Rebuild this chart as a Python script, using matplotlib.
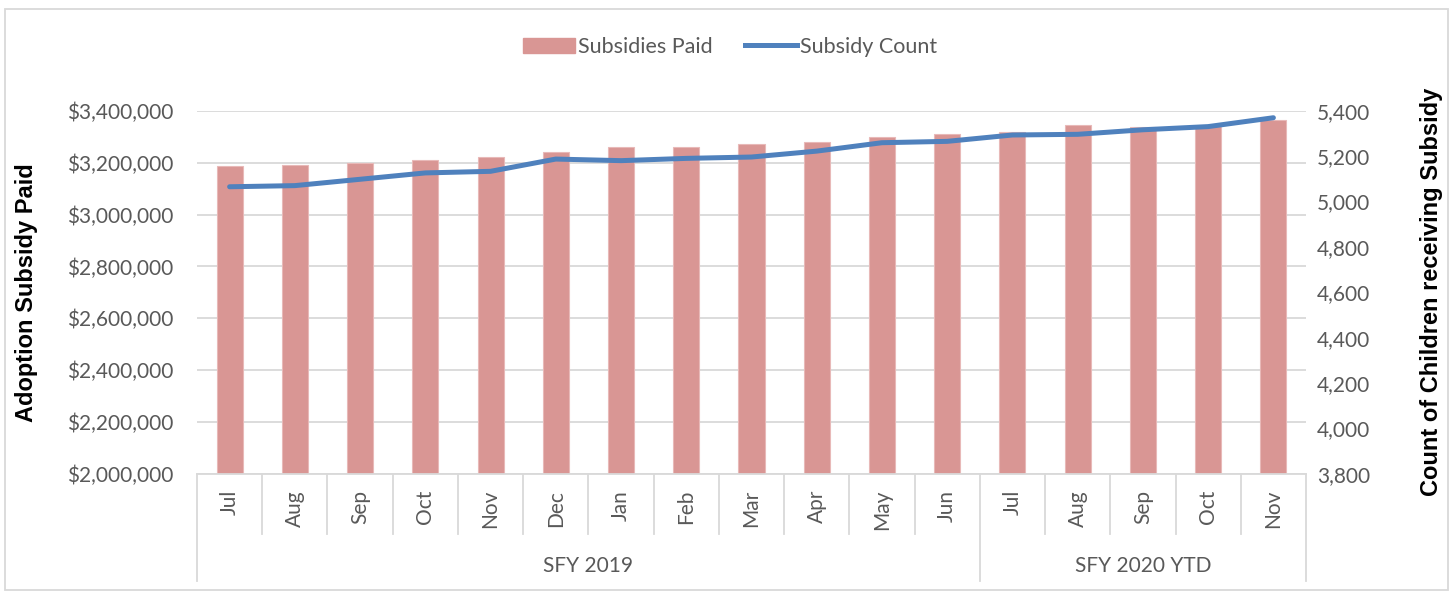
import matplotlib.pyplot as plt
import matplotlib.transforms as mtransforms
from matplotlib.patches import Rectangle, Patch
from matplotlib.lines import Line2D
from matplotlib.ticker import FuncFormatter

months = ['Jul', 'Aug', 'Sep', 'Oct', 'Nov', 'Dec', 'Jan', 'Feb', 'Mar', 'Apr', 'May', 'Jun',
          'Jul', 'Aug', 'Sep', 'Oct', 'Nov']
groups = ['SFY 2019', 'SFY 2020 YTD']
group_sizes = [12, 5]
subsidies_paid = [3186000, 3192000, 3199000, 3210000, 3221000, 3240000, 3259000, 3260000,
                  3272000, 3279000, 3298000, 3309000, 3317000, 3345000, 3339000, 3340000, 3366000]
subsidy_count = [5065, 5070, 5098, 5126, 5133, 5187, 5180, 5190, 5196, 5222, 5259, 5265,
                 5293, 5296, 5316, 5330, 5369]

plt.rcParams['font.family'] = ['Lato', 'DejaVu Sans']
tick_col = '#595959'
grid_col = '#d9d9d9'
fs = 15

fig = plt.figure(figsize=(14.54, 5.95), dpi=100)
ax = fig.add_axes([197 / 1454, 121 / 595, 1109 / 1454, 363.3 / 595])
ax2 = ax.twinx()

x = list(range(len(months)))
ax.bar(x, subsidies_paid, width=0.4, color='#d99694', edgecolor='#e8b9b8', linewidth=0.8, zorder=2)
ax2.plot(x, subsidy_count, color='#4f81bd', linewidth=3.6, solid_capstyle='round', zorder=3)

ax.set_xlim(-0.5, len(months) - 0.5)
ax.set_ylim(2000000, 3400000)
ax.set_yticks(range(2000000, 3400001, 200000))
ax.yaxis.set_major_formatter(FuncFormatter(lambda v, p: '${:,.0f}'.format(v)))
ax2.set_ylim(3800, 5400)
ax2.set_yticks(range(3800, 5401, 200))
ax2.yaxis.set_major_formatter(FuncFormatter(lambda v, p: '{:,.0f}'.format(v)))

ax.grid(axis='y', color=grid_col, linewidth=1.3, zorder=0)
ax.set_axisbelow(True)
for a in (ax, ax2):
    for s in a.spines.values():
        s.set_visible(False)
    a.tick_params(axis='y', length=0, labelsize=fs, labelcolor=tick_col)
ax.tick_params(axis='y', pad=17)
ax2.tick_params(axis='y', pad=8)
ax.set_xticks([])

ax.set_ylabel('Adoption Subsidy Paid', fontsize=17, fontweight='bold', family='Liberation Sans')
ax.yaxis.set_label_coords((38 - 197) / 1109, 0.5)
ax2.set_ylabel('Count of Children receiving Subsidy', fontsize=17, fontweight='bold',
               family='Liberation Sans', rotation=90)
ax2.yaxis.set_label_coords((1420 - 197) / 1109, 0.5)

# category axis with grouped labels
trans = mtransforms.blended_transform_factory(ax.transData, ax.transAxes)
px = 1 / 363.3
ax.plot([-0.5, len(months) - 0.5], [0, 0], color=grid_col, lw=1.3, transform=trans, clip_on=False)
for i, m in enumerate(months):
    ax.text(i, -16 * px, m, rotation=90, ha='center', va='top', fontsize=fs,
            color=tick_col, transform=trans)
bounds = [-0.5]
for n in group_sizes:
    bounds.append(bounds[-1] + n)
for b in range(len(months) + 1):
    xb = b - 0.5
    depth = 107 if xb in bounds else 60
    ax.plot([xb, xb], [0, -depth * px], color=grid_col, lw=1.3, transform=trans, clip_on=False)
for g, a, b in zip(groups, bounds[:-1], bounds[1:]):
    ax.text((a + b) / 2, -92 * px, g, ha='center', va='center', fontsize=fs,
            color=tick_col, transform=trans)

handles = [Patch(facecolor='#d99694', edgecolor='#d99694'),
           Line2D([0], [0], color='#4f81bd', lw=3.6)]
fig.legend(handles, ['Subsidies Paid', 'Subsidy Count'], loc='center',
           bbox_to_anchor=(730 / 1454, 1 - 47 / 595), ncol=2, frameon=False,
           fontsize=15.5, labelcolor=tick_col, handlelength=2.4, handleheight=0.7,
           columnspacing=1.5, handletextpad=0.15)

fig.patches.append(Rectangle((5 / 1454, 5 / 595), 1443 / 1454, 581 / 595, transform=fig.transFigure,
                             fill=False, edgecolor=grid_col, lw=1.3))

fig.savefig('out.png', dpi=100)
